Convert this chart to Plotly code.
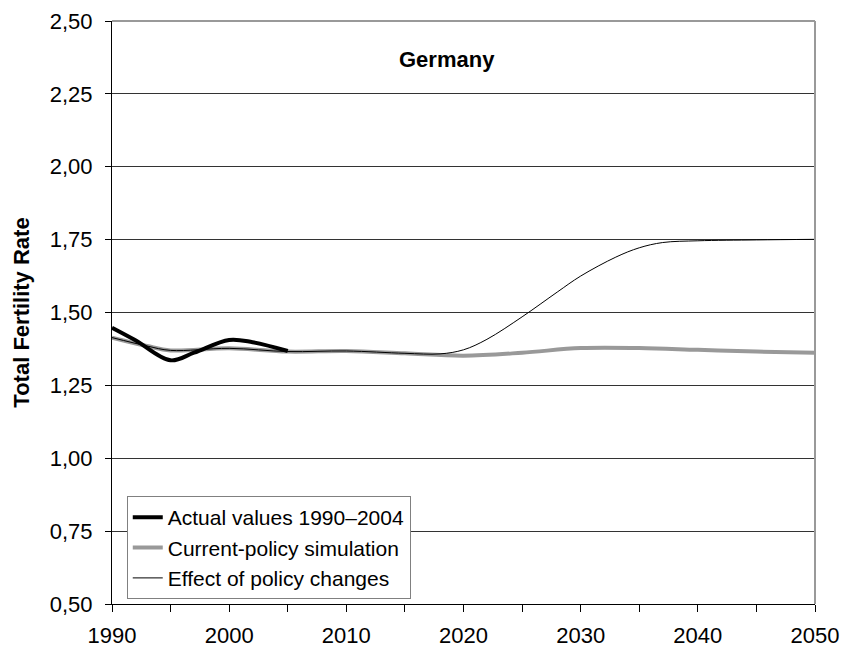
import plotly.graph_objects as go

# values
actual_years = [1990, 1992, 1995, 1997, 2000, 2002, 2005]
actual_tfr = [1.448, 1.405, 1.336, 1.362, 1.406, 1.398, 1.368]

base_years = [1990, 1993, 1995, 2000, 2005, 2010, 2015, 2020, 2025, 2030, 2035, 2040, 2045, 2050]
base_tfr = [1.414, 1.385, 1.370, 1.377, 1.366, 1.368, 1.360, 1.352, 1.362, 1.378, 1.378, 1.372, 1.366, 1.362]

policy_years = [1990, 1993, 1995, 2000, 2005, 2010, 2015, 2018, 2020, 2022, 2025, 2028, 2030, 2033, 2035, 2037, 2040, 2045, 2050]
policy_tfr = [1.414, 1.385, 1.370, 1.377, 1.366, 1.368, 1.360, 1.358, 1.372, 1.408, 1.485, 1.570, 1.625, 1.690, 1.722, 1.740, 1.746, 1.749, 1.751]

yticks = [0.5, 0.75, 1.0, 1.25, 1.5, 1.75, 2.0, 2.25, 2.5]
ytick_text = ["0,50", "0,75", "1,00", "1,25", "1,50", "1,75", "2,00", "2,25", "2,50"]

FONT = "Arial, Liberation Sans, sans-serif"

fig = go.Figure()
fig.add_trace(go.Scatter(x=base_years, y=base_tfr, mode="lines", name="Current-policy simulation",
                         line=dict(color="#999999", width=4, shape="spline"), legendrank=2))
fig.add_trace(go.Scatter(x=actual_years, y=actual_tfr, mode="lines", name="Actual values 1990\u20132004",
                         line=dict(color="#000000", width=4, shape="spline"), legendrank=1))
fig.add_trace(go.Scatter(x=policy_years, y=policy_tfr, mode="lines", name="Effect of policy changes",
                         line=dict(color="#000000", width=1, shape="spline"), legendrank=3))

fig.update_layout(
    width=844, height=650,
    margin=dict(l=112, r=29, t=21, b=46, autoexpand=False),
    plot_bgcolor="white", paper_bgcolor="white",
    font=dict(family=FONT, size=22, color="black"),
    showlegend=True,
    legend=dict(x=0.021, y=0.185, xanchor="left", yanchor="top",
                bordercolor="#808080", borderwidth=1, bgcolor="white",
                font=dict(size=21), tracegroupgap=0, itemwidth=30),
    xaxis=dict(range=[1990, 2050], dtick=10, tick0=1990, showgrid=False, zeroline=False,
               showline=True, linecolor="black", linewidth=1, automargin=False,
               ticks="outside", ticklen=7, tickcolor="black", tickfont=dict(size=22),
               ticklabelstandoff=5,
               minor=dict(dtick=5, ticks="outside", ticklen=7, tickcolor="black")),
    yaxis=dict(range=[0.5, 2.5], tickvals=yticks, ticktext=ytick_text, zeroline=False,
               showgrid=True, gridcolor="#333333", gridwidth=1, automargin=False,
               showline=True, linecolor="black", linewidth=1,
               ticks="outside", ticklen=6, tickcolor="black", tickfont=dict(size=22),
               ticklabelstandoff=8,
               title=dict(text="<b>Total Fertility Rate</b>", font=dict(size=22), standoff=14)),
    annotations=[dict(text="<b>Germany</b>", xref="paper", yref="paper", x=0.477, y=0.959,
                      showarrow=False, font=dict(size=22))],
    shapes=[dict(type="line", xref="paper", yref="paper", x0=0, x1=1, y0=1, y1=1,
                 line=dict(color="#999999", width=2)),
            dict(type="line", xref="paper", yref="paper", x0=1, x1=1, y0=0, y1=1,
                 line=dict(color="#999999", width=2))],
)

# drop the default 8px page margin so the figure fills the window
fig.write_html("out.html", config=dict(displayModeBar=False),
               post_script="document.body.style.margin='0';document.body.style.overflow='hidden';")
